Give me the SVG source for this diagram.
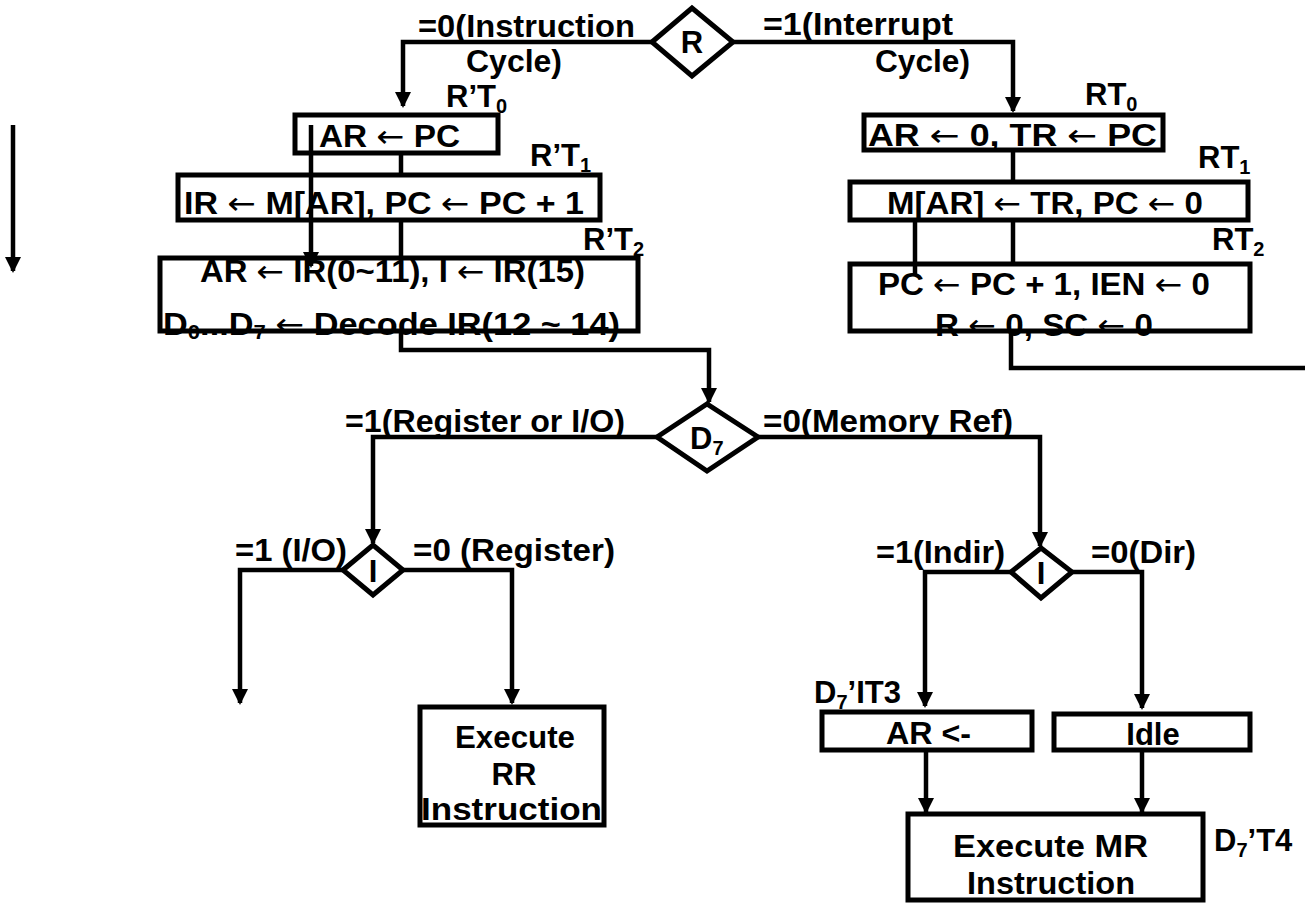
<svg xmlns="http://www.w3.org/2000/svg" width="1305" height="907" viewBox="0 0 1305 907">
<style>
.bx{fill:none;stroke:#000;stroke-width:5}
.dm{fill:#fff;stroke:#000;stroke-width:5}
.ln{fill:none;stroke:#000;stroke-width:4.5}
.ar{fill:none;stroke:#000;stroke-width:4.5;marker-end:url(#ah)}
text{font-family:"Liberation Sans",Arial,sans-serif;font-weight:bold;font-size:31px;fill:#000}
.c{text-anchor:middle}
.sb{font-size:20px}
.a{font-family:"DejaVu Sans",sans-serif;font-weight:normal}
</style>
<defs>
<marker id="ah" markerUnits="userSpaceOnUse" markerWidth="16" markerHeight="18" refX="14" refY="8" orient="auto">
<path d="M0,0 L16,8 L0,16 z" fill="#000"/>
</marker>
</defs>
<rect width="1305" height="907" fill="#fff"/>
<g id="connectors">
<path class="ar" d="M652,42 H403 V106"/>
<path class="ar" d="M733,42 H1013 V111"/>
<path class="ln" d="M401,155 V173"/>
<path class="ln" d="M401,222 V256"/>
<path class="ar" d="M311,125 V266"/>
<path class="ar" d="M401,333 V350 H709 V402"/>
<path class="ln" d="M1013,152 V180"/>
<path class="ln" d="M1013,222 V262"/>
<path class="ln" d="M915,218 V275"/>
<path class="ln" d="M1011,333 V368 H1305"/>
<path class="ar" d="M657,437 H373 V543"/>
<path class="ar" d="M758,437 H1040 V546"/>
<path class="ar" d="M343,570 H240 V703"/>
<path class="ar" d="M403,570 H512 V703"/>
<path class="ar" d="M1011,572 H925 V706"/>
<path class="ar" d="M1072,572 H1142 V708"/>
<path class="ar" d="M926,752 V812"/>
<path class="ar" d="M1142,752 V812"/>
<path class="ar" d="M13,125 V271"/>
</g>
<g id="R">
<path class="dm" d="M652,42 L692,8 L733,42 L692,76 Z"/>
<text class="c" x="692" y="53">R</text>
</g>
<g id="lbl-top">
<text x="418" y="37" textLength="217" lengthAdjust="spacingAndGlyphs">=0(Instruction</text>
<text x="466" y="72" textLength="96" lengthAdjust="spacingAndGlyphs">Cycle)</text>
<text x="763" y="35" textLength="190" lengthAdjust="spacingAndGlyphs">=1(Interrupt</text>
<text x="875" y="72" textLength="95" lengthAdjust="spacingAndGlyphs">Cycle)</text>
</g>
<g id="box-rt0p">
<text x="319" y="147" textLength="141" lengthAdjust="spacingAndGlyphs">AR <tspan class="a">←</tspan> PC</text>
<rect class="bx" x="295" y="115" width="203" height="38"/>
<text x="446" y="107">R’T<tspan class="sb" dy="6">0</tspan></text>
</g>
<g id="box-rt1p">
<text x="184" y="214" textLength="400" lengthAdjust="spacingAndGlyphs">IR <tspan class="a">←</tspan> M[AR], PC <tspan class="a">←</tspan> PC + 1</text>
<rect class="bx" x="178" y="175" width="422" height="45"/>
<text x="530" y="166">R’T<tspan class="sb" dy="6">1</tspan></text>
</g>
<g id="box-rt2p">
<text x="200" y="282" textLength="385" lengthAdjust="spacingAndGlyphs">AR <tspan class="a">←</tspan> IR(0~11), I <tspan class="a">←</tspan> IR(15)</text>
<text x="163" y="335" textLength="457" lengthAdjust="spacingAndGlyphs">D<tspan class="sb" dy="4">0</tspan><tspan dy="-4">...D</tspan><tspan class="sb" dy="4">7</tspan><tspan dy="-4"> </tspan><tspan class="a">←</tspan> Decode IR(12 ~ 14)</text>
<rect class="bx" x="160" y="258" width="478" height="73"/>
<text x="583" y="250">R’T<tspan class="sb" dy="6">2</tspan></text>
</g>
<g id="box-rt0">
<text x="868" y="146" textLength="289" lengthAdjust="spacingAndGlyphs">AR <tspan class="a">←</tspan> 0, TR <tspan class="a">←</tspan> PC</text>
<rect class="bx" x="864" y="115" width="299" height="35"/>
<text x="1085" y="105">RT<tspan class="sb" dy="6">0</tspan></text>
</g>
<g id="box-rt1">
<text x="887" y="214" textLength="316" lengthAdjust="spacingAndGlyphs">M[AR] <tspan class="a">←</tspan> TR, PC <tspan class="a">←</tspan> 0</text>
<rect class="bx" x="850" y="182" width="398" height="38"/>
<text x="1198" y="168">RT<tspan class="sb" dy="6">1</tspan></text>
</g>
<g id="box-rt2">
<text x="878" y="295" textLength="332" lengthAdjust="spacingAndGlyphs">PC <tspan class="a">←</tspan> PC + 1, IEN <tspan class="a">←</tspan> 0</text>
<text x="935" y="336" textLength="218" lengthAdjust="spacingAndGlyphs">R <tspan class="a">←</tspan> 0, SC <tspan class="a">←</tspan> 0</text>
<rect class="bx" x="850" y="264" width="400" height="67"/>
<text x="1212" y="250">RT<tspan class="sb" dy="6">2</tspan></text>
</g>
<g id="D7">
<path class="dm" d="M657,437 L707,404 L758,437 L707,471 Z"/>
<text x="690" y="449">D<tspan class="sb" dy="6">7</tspan></text>
<text x="345" y="432" textLength="280" lengthAdjust="spacingAndGlyphs">=1(Register or I/O)</text>
<text x="763" y="432" textLength="250" lengthAdjust="spacingAndGlyphs">=0(Memory Ref)</text>
</g>
<g id="I-left">
<path class="dm" d="M343,570 L373,545 L403,570 L373,595 Z"/>
<text class="c" x="373" y="582">I</text>
<text x="235" y="561" textLength="112" lengthAdjust="spacingAndGlyphs">=1 (I/O)</text>
<text x="413" y="561" textLength="202" lengthAdjust="spacingAndGlyphs">=0 (Register)</text>
</g>
<g id="box-rr">
<rect class="bx" x="420" y="707" width="184" height="118"/>
<text x="455" y="748" textLength="120" lengthAdjust="spacingAndGlyphs">Execute</text>
<text class="c" x="514" y="785">RR</text>
<text x="421" y="820" textLength="181" lengthAdjust="spacingAndGlyphs">Instruction</text>
</g>
<g id="I-right">
<path class="dm" d="M1011,572 L1041,548 L1072,572 L1041,598 Z"/>
<text class="c" x="1041" y="584">I</text>
<text x="876" y="563" textLength="129" lengthAdjust="spacingAndGlyphs">=1(Indir)</text>
<text x="1091" y="563" textLength="105" lengthAdjust="spacingAndGlyphs">=0(Dir)</text>
</g>
<g id="box-ind">
<rect class="bx" x="822" y="712" width="210" height="38"/>
<text x="886" y="744" textLength="85" lengthAdjust="spacingAndGlyphs">AR &lt;-</text>
<text x="814" y="703">D<tspan class="sb" dy="6">7</tspan><tspan dy="-6">’IT3</tspan></text>
</g>
<g id="box-idle">
<rect class="bx" x="1054" y="714" width="196" height="36"/>
<text class="c" x="1153" y="745">Idle</text>
</g>
<g id="box-mr">
<rect class="bx" x="908" y="814" width="295" height="86"/>
<text x="953" y="857" textLength="195" lengthAdjust="spacingAndGlyphs">Execute  MR</text>
<text x="967" y="894" textLength="168" lengthAdjust="spacingAndGlyphs">Instruction</text>
<text x="1214" y="851">D<tspan class="sb" dy="6">7</tspan><tspan dy="-6">’T4</tspan></text>
</g>
</svg>
